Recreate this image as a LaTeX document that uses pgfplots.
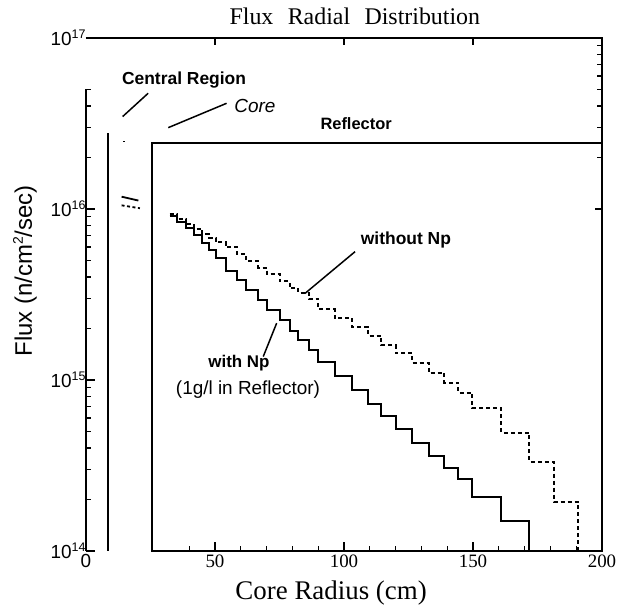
\documentclass[border=0pt]{standalone}
\usepackage{fontspec}
\setmainfont{Liberation Serif}
\setsansfont{Liberation Sans}
\usepackage{pgfplots}
\pgfplotsset{compat=1.18}
\newcommand\pw[1]{10\raisebox{0.72ex}{\fontsize{12.5}{12.5}\selectfont #1}}
\begin{document}
\begin{tikzpicture}
\useasboundingbox (-86bp,-56bp) rectangle (541bp,551bp);
\begin{axis}[
  at={(0,0)}, anchor=south west,
  width=516bp, height=513bp, scale only axis,
  xmin=0, xmax=200, ymin=1e14, ymax=1e17, ymode=log,
  axis line style={draw=none},
  clip=false,
  xtick pos=bottom, ytick pos=left,
  xtick={0,50,100,150,200},
  xticklabels={{\sffamily 0},50,100,150,200},
  minor xtick={40,60,70,80,90,110,120,130,140,160,170,180,190},
  ytick={1e14,1e15,1e16,1e17},
  yticklabels={\pw{14},\pw{15},\pw{16},\pw{17}},
  minor ytick={2e14,3e14,4e14,5e14,6e14,7e14,8e14,9e14,2e15,3e15,4e15,5e15,6e15,7e15,8e15,9e15,2e16,3e16,4e16,5e16},
  major tick length=9bp, minor tick length=5bp,
  every tick/.style={black, line width=1.3bp},
  xticklabel style={font=\fontsize{19}{19}\selectfont},
  yticklabel style={font=\sffamily\fontsize{19}{19}\selectfont, xshift=3bp},
]
% frame and region boundaries
\addplot[black, line width=2.2bp, line join=miter] coordinates {(0,1e17) (200,1e17) (200,1e14) (25.6,1e14) (25.6,2.43e16) (200,2.43e16)};
\addplot[black, line width=2.2bp] coordinates {(0,1e14) (0,5e16)};
\addplot[black, line width=1.9bp] coordinates {(8.4,1e14) (8.4,2.77e16)};
\addplot[black, line width=1.8bp] coordinates {(14.5,2.48e16) (15.3,2.48e16)};
% central region fragments
\addplot[black, line width=1.8bp] coordinates {(13.8,1.18e16) (20.3,1.12e16)};
\addplot[black, line width=1.8bp, dash pattern=on 3bp off 2.5bp] coordinates {(13.8,1.05e16) (20.9,1.01e16)};
% with Np
\addplot[black, line width=2bp, const plot] coordinates {
(32.4,9.1e15) (35.3,8.43e15) (38.7,7.71e15) (41.9,7.05e15) (45.1,6.30e15) (47.7,5.75e15)
(50.3,5.15e15) (54.1,4.36e15) (58.6,3.86e15) (62.2,3.38e15) (66.7,2.95e15) (70.1,2.58e15)
(75.0,2.25e15) (78.9,1.94e15) (82.3,1.71e15) (86.4,1.50e15) (90.0,1.28e15) (96.4,1.05e15)
(103.1,8.75e14) (109.3,7.24e14) (114.5,6.16e14) (120.0,5.17e14) (126.4,4.30e14) (132.9,3.61e14)
(138.9,3.05e14) (144.3,2.63e14) (149.8,2.08e14) (161.0,1.49e14) (171.7,1e14)};
% without Np
\addplot[black, line width=2bp, const plot, dash pattern=on 4bp off 3bp] coordinates {
(32.4,9.36e15) (35.3,8.75e15) (38.7,8.17e15) (41.9,7.64e15) (45.1,7.14e15) (47.7,6.77e15)
(50.3,6.41e15) (54.1,5.99e15) (58.6,5.45e15) (62.2,4.96e15) (66.7,4.52e15) (70.1,4.17e15)
(75.0,3.79e15) (78.9,3.45e15) (82.3,3.23e15) (86.4,2.98e15) (90.0,2.60e15) (96.4,2.29e15)
(103.1,2.03e15) (109.3,1.81e15) (114.5,1.60e15) (120.0,1.43e15) (126.4,1.26e15) (132.9,1.10e15)
(138.9,9.64e14) (144.3,8.43e14) (149.8,6.83e14) (161.0,4.92e14) (171.7,3.33e14) (181.3,1.94e14)
(190.8,1e14)};
% annotations
\draw[black, line width=1.5bp] (axis cs:24.1,4.75e16) -- (axis cs:14.2,3.47e16);
\draw[black, line width=1.5bp] (axis cs:54.5,4.15e16) -- (axis cs:31.9,2.99e16);
\draw[black, line width=1.5bp] (axis cs:84.9,3.21e15) -- (axis cs:104.3,5.63e15);
\draw[black, line width=1.5bp] (axis cs:73.9,2.15e15) -- (axis cs:68.7,1.37e15);
\node[font=\sffamily\bfseries\fontsize{17.5}{17.5}\selectfont] at (axis cs:38.0,5.68e16) {Central Region};
\node[font=\sffamily\itshape\fontsize{19}{19}\selectfont] at (axis cs:65.5,4.0e16) {Core};
\node[font=\sffamily\bfseries\fontsize{16.5}{16.5}\selectfont] at (axis cs:104.7,3.17e16) {Reflector};
\node[font=\sffamily\bfseries\fontsize{17.5}{17.5}\selectfont] at (axis cs:124.0,6.59e15) {without Np};
\node[font=\sffamily\bfseries\fontsize{17}{17}\selectfont] at (axis cs:59.3,1.26e15) {with Np};
\node[font=\sffamily\fontsize{19}{19}\selectfont] at (axis cs:62.8,8.75e14) {(1g/l in Reflector)};
% title and axis labels
\node[font=\fontsize{24}{24}\selectfont, anchor=base, yshift=13bp] at (rel axis cs:0.521,1) {Flux\hspace{0.6em}Radial\hspace{0.6em}Distribution};
\node[font=\fontsize{27}{27}\selectfont, anchor=base, yshift=-49bp] at (rel axis cs:0.475,0) {Core Radius (cm)};
\node[font=\sffamily\fontsize{24}{24}\selectfont, xshift=-61bp, rotate=90, anchor=center] at (rel axis cs:0,0.546) {Flux (n/cm\raisebox{0.7ex}{\fontsize{14}{14}\selectfont 2}/sec)};
\end{axis}
\begin{axis}[
  at={(0,0)}, anchor=south west,
  width=516bp, height=513bp, scale only axis,
  xmin=0, xmax=200, ymin=1e14, ymax=1e17, ymode=log,
  axis line style={draw=none},
  xtick pos=right, ytick pos=right,
  xtick={50,100,150}, xticklabels={,,},
  ytick={1e16,1e17}, yticklabels={,},
  minor ytick={2e16,3e16,4e16,5e16,6e16,7e16,8e16,9e16},
  major tick length=7bp, minor tick length=5bp,
  every tick/.style={black, line width=1.3bp},
]
\end{axis}
\end{tikzpicture}
\end{document}
